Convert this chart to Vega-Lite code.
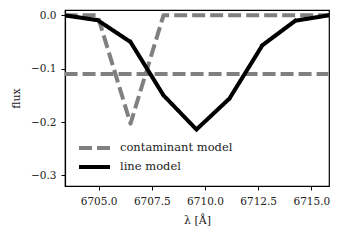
{
  "$schema": "https://vega.github.io/schema/vega-lite/v6.json",
  "width": 264,
  "height": 176,
  "autosize": {"type": "none"},
  "padding": {"left": 65, "top": 10, "right": 12, "bottom": 54},
  "background": "white",
  "config": {
    "font": "DejaVu Serif",
    "view": {"stroke": "black", "strokeWidth": 1.2},
    "axis": {
      "grid": false,
      "domainColor": "black",
      "domainWidth": 1.2,
      "tickColor": "black",
      "tickWidth": 1,
      "tickSize": 4,
      "labelFont": "DejaVu Serif",
      "labelFontSize": 10.5,
      "labelColor": "#222",
      "titleFont": "DejaVu Serif",
      "titleFontSize": 11,
      "titleFontWeight": "normal",
      "titleColor": "#222"
    },
    "legend": {
      "labelFont": "DejaVu Serif",
      "labelFontSize": 11.5,
      "labelColor": "#222"
    }
  },
  "data": {
    "values": [
      {"series": "contaminant model", "grp": "c1", "x": 6703.4, "y": 0},
      {"series": "contaminant model", "grp": "c1", "x": 6704.95, "y": 0},
      {"series": "contaminant model", "grp": "c1", "x": 6706.5, "y": -0.203},
      {"series": "contaminant model", "grp": "c1", "x": 6708.05, "y": 0},
      {"series": "contaminant model", "grp": "c1", "x": 6709.6, "y": 0},
      {"series": "contaminant model", "grp": "c1", "x": 6711.15, "y": 0},
      {"series": "contaminant model", "grp": "c1", "x": 6712.7, "y": 0},
      {"series": "contaminant model", "grp": "c1", "x": 6714.25, "y": 0},
      {"series": "contaminant model", "grp": "c1", "x": 6715.8, "y": 0},
      {"series": "contaminant model", "grp": "c2", "x": 6703.4, "y": -0.11},
      {"series": "contaminant model", "grp": "c2", "x": 6715.8, "y": -0.11},
      {"series": "line model", "grp": "l", "x": 6703.4, "y": 0},
      {"series": "line model", "grp": "l", "x": 6704.95, "y": -0.009},
      {"series": "line model", "grp": "l", "x": 6706.5, "y": -0.05},
      {"series": "line model", "grp": "l", "x": 6708.05, "y": -0.15},
      {"series": "line model", "grp": "l", "x": 6709.6, "y": -0.214},
      {"series": "line model", "grp": "l", "x": 6711.15, "y": -0.156},
      {"series": "line model", "grp": "l", "x": 6712.7, "y": -0.056},
      {"series": "line model", "grp": "l", "x": 6714.25, "y": -0.01},
      {"series": "line model", "grp": "l", "x": 6715.8, "y": 0}
    ]
  },
  "encoding": {
    "x": {
      "field": "x", "type": "quantitative",
      "scale": {"domain": [6703.42, 6715.83], "nice": false, "zero": false},
      "axis": {"values": [6705, 6707.5, 6710, 6712.5, 6715], "format": ".1f", "title": "λ [Å]", "labelPadding": 6, "titlePadding": 8}
    },
    "y": {
      "field": "y", "type": "quantitative",
      "scale": {"domain": [-0.32, 0.01], "nice": false, "zero": false},
      "axis": {"values": [0, -0.1, -0.2, -0.3], "format": ".1f", "title": "flux", "labelPadding": 5, "titlePadding": 9}
    },
    "color": {
      "field": "series", "type": "nominal",
      "scale": {"domain": ["contaminant model", "line model"], "range": ["#808080", "black"]},
      "legend": {
        "title": null,
        "orient": "none",
        "legendX": 12,
        "legendY": 130,
        "symbolType": "stroke",
        "symbolSize": 961,
        "symbolStrokeWidth": 4,
        "labelOffset": 8,
        "clipHeight": 16,
        "rowPadding": 3,
        "padding": 0
      }
    },
    "strokeDash": {
      "field": "series", "type": "nominal",
      "scale": {"domain": ["contaminant model", "line model"], "range": [[13, 5], [1, 0]]},
      "legend": null
    },
    "detail": {"field": "grp"}
  },
  "layer": [
    {
      "transform": [{"filter": "datum.series == 'contaminant model'"}],
      "mark": {"type": "line", "strokeWidth": 4, "clip": true, "strokeCap": "butt", "strokeJoin": "round"}
    },
    {
      "transform": [{"filter": "datum.series == 'line model'"}],
      "mark": {"type": "line", "strokeWidth": 4, "clip": true, "strokeCap": "square", "strokeJoin": "round"}
    }
  ]
}
